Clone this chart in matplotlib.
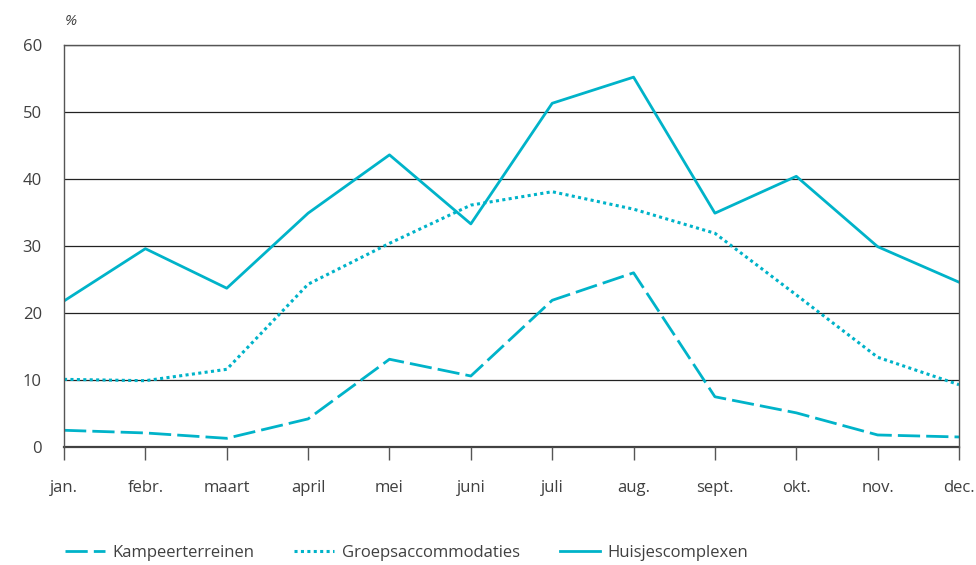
import matplotlib.pyplot as plt

months = ['jan.', 'febr.', 'maart', 'april', 'mei', 'juni', 'juli', 'aug.',
          'sept.', 'okt.', 'nov.', 'dec.']
kampeer = [2.5, 2.1, 1.3, 4.2, 13.1, 10.6, 21.9, 26.0, 7.5, 5.1, 1.8, 1.5]
groeps = [10.1, 9.9, 11.6, 24.3, 30.4, 36.1, 38.1, 35.5, 31.9, 22.7, 13.4, 9.3]
huisjes = [21.8, 29.6, 23.7, 34.9, 43.6, 33.3, 51.3, 55.2, 34.9, 40.4, 29.9, 24.6]

col = '#00b3c9'
txt = '#404040'
plt.rcParams['font.family'] = ['Open Sans', 'DejaVu Sans']
plt.rcParams['font.size'] = 12

fig = plt.figure(figsize=(9.76, 5.65), dpi=100)
ax = fig.add_axes([0.0656, 0.2088, 0.917, 0.7116])

x = range(len(months))
ax.plot(x, kampeer, color=col, lw=2.0, dashes=(8, 2.2), dash_capstyle='butt',
        label='Kampeerterreinen')
ax.plot(x, groeps, color=col, lw=2.2, dashes=(1, 1.1), dash_capstyle='butt',
        label='Groepsaccommodaties')
ax.plot(x, huisjes, color=col, lw=2.0, label='Huisjescomplexen')

ax.set_xlim(0, 11)
ax.set_ylim(0, 60)
ax.set_yticks(range(0, 61, 10))
ax.set_xticks(list(x))
ax.set_xticklabels(months, color=txt)
for t in ax.get_yticklabels():
    t.set_color(txt)
ax.yaxis.grid(True, color='#222222', lw=0.9)
ax.set_axisbelow(True)
ax.tick_params(axis='y', length=0, pad=16)
ax.tick_params(axis='x', length=9, width=1, color='#555555', direction='out', pad=15)
for s in ['left', 'right', 'top']:
    ax.spines[s].set_color('#555555')
    ax.spines[s].set_linewidth(1)
ax.spines['bottom'].set_color('#444444')
ax.spines['bottom'].set_linewidth(1.6)
ax.spines['bottom'].set_zorder(0.5)

fig.text(0.066, 0.962, '%', color=txt, fontsize=11, style='italic', va='center')

fig.legend(loc='center left', bbox_to_anchor=(0.051, 0.021), ncol=3, frameon=False,
           handlelength=2.4, handletextpad=0.45, columnspacing=2.4,
           labelcolor=txt, fontsize=12)

fig.savefig('out.png')
